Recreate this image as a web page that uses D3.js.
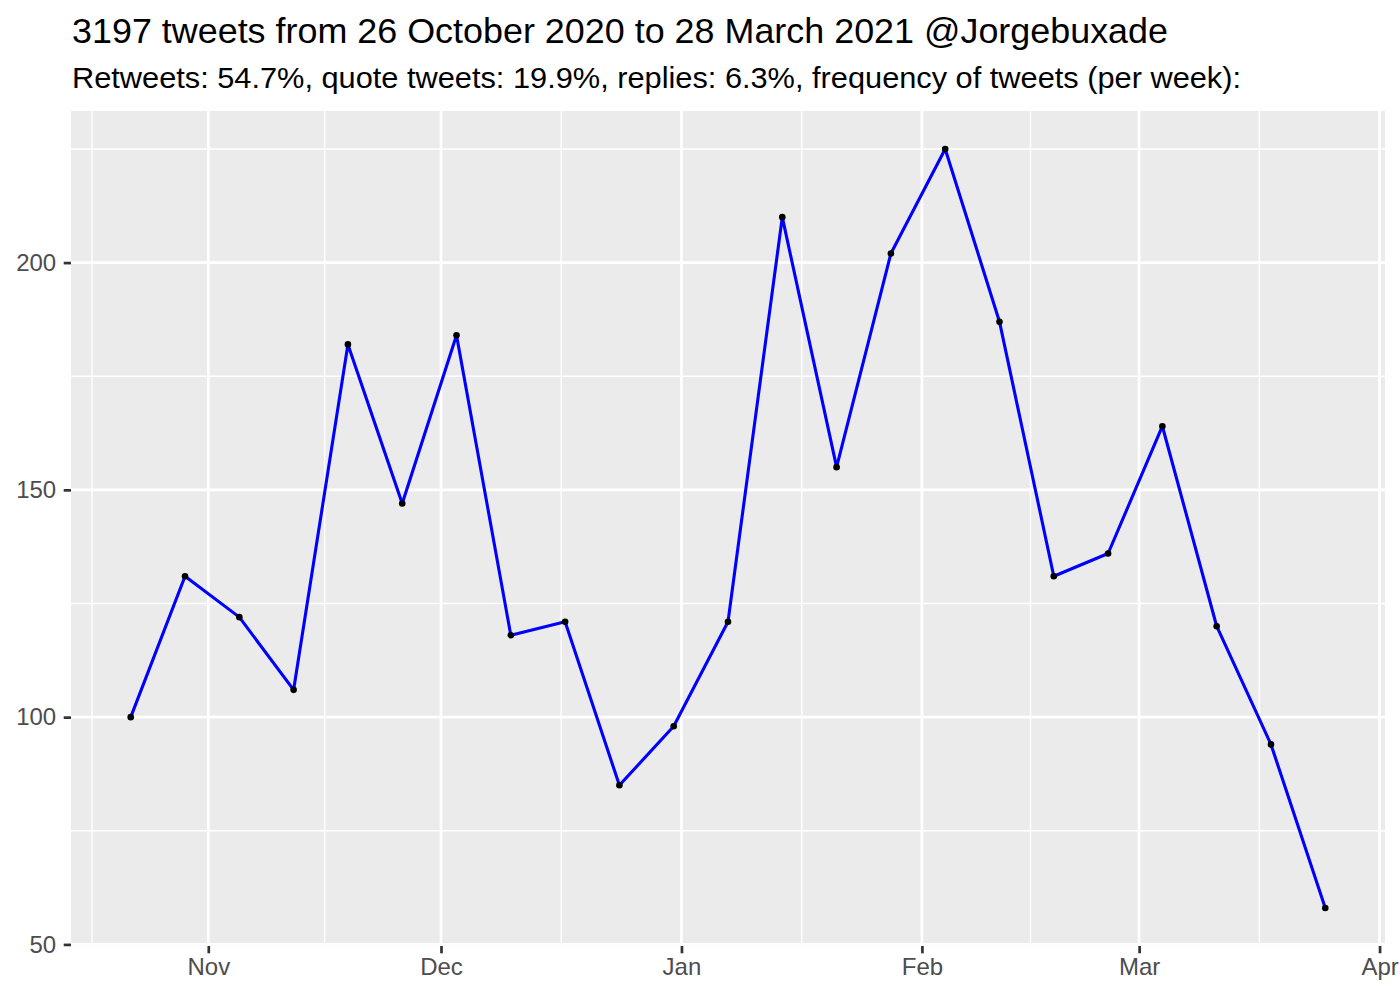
<!DOCTYPE html>
<html>
<head>
<meta charset="utf-8">
<script src="https://cdn.jsdelivr.net/npm/d3@7"></script>
<style>
  body { margin: 0; background: #fff; }
  svg { display: block; font-family: "Liberation Sans", Arial, sans-serif; }
</style>
</head>
<body>
<div id="chart"></div>
<script>
// weekly buckets (week floored to Thursday) and tweet counts
const weeks = [
  "2020-10-22", "2020-10-29", "2020-11-05", "2020-11-12", "2020-11-19",
  "2020-11-26", "2020-12-03", "2020-12-10", "2020-12-17", "2020-12-24",
  "2020-12-31", "2021-01-07", "2021-01-14", "2021-01-21", "2021-01-28",
  "2021-02-04", "2021-02-11", "2021-02-18", "2021-02-25", "2021-03-04",
  "2021-03-11", "2021-03-18", "2021-03-25"
];
const counts = [
  100, 131, 122, 106, 182, 147, 184, 118, 121, 85, 98, 121,
  210, 155, 202, 225, 187, 131, 136, 164, 120, 94, 58
];
const yBreaks = [50, 100, 150, 200];
const yMinor = [75, 125, 175, 225];
const monthLabels = ["Nov", "Dec", "Jan", "Feb", "Mar", "Apr"];

const title = "3197 tweets from 26 October 2020 to 28 March 2021 @Jorgebuxade";
const subtitle = "Retweets: 54.7%, quote tweets: 19.9%, replies: 6.3%, frequency of tweets (per week):";

const W = 1400, H = 1000;
const margin = {top: 111, right: 15, bottom: 54, left: 71};
const pw = W - margin.left - margin.right;
const ph = H - margin.top - margin.bottom;

const parse = d3.utcParse("%Y-%m-%d");
const data = weeks.map((w, i) => ({date: parse(w), n: counts[i]}));

const svg = d3.select("#chart").append("svg")
  .attr("width", W)
  .attr("height", H);

// titles (R's Helvetica runs a bit wider than Liberation at the same height)
svg.append("text")
  .attr("x", 72)
  .attr("y", 42.5)
  .attr("font-size", 34.5)
  .attr("fill", "#000")
  .attr("textLength", 1096)
  .attr("lengthAdjust", "spacingAndGlyphs")
  .text(title);

svg.append("text")
  .attr("x", 72)
  .attr("y", 87.5)
  .attr("font-size", 29)
  .attr("fill", "#000")
  .attr("textLength", 1169)
  .attr("lengthAdjust", "spacingAndGlyphs")
  .text(subtitle);

// scales with ggplot style 5% expansion
const xExt = d3.extent(data, d => d.date);
const xPad = (xExt[1] - xExt[0]) * 0.05;
const x = d3.scaleUtc()
  .domain([new Date(+xExt[0] - xPad), new Date(+xExt[1] + xPad)])
  .range([0, pw]);

const yExt = d3.extent(data, d => d.n);
const yPad = (yExt[1] - yExt[0]) * 0.05;
const y = d3.scaleLinear()
  .domain([yExt[0] - yPad, yExt[1] + yPad])
  .range([ph, 0]);

const g = svg.append("g")
  .attr("transform", "translate(" + margin.left + "," + margin.top + ")");

// panel
g.append("rect")
  .attr("width", pw)
  .attr("height", ph)
  .attr("fill", "#EBEBEB");

// month breaks; minor breaks are midpoints, with the break list extended
// by the first spacing on both ends (like scales::regular_minor_breaks)
const xMajor = d3.utcMonth.range(x.domain()[0], x.domain()[1]);
const step = xMajor[1] - xMajor[0];
const extended = [new Date(+xMajor[0] - step), ...xMajor, new Date(+xMajor[xMajor.length - 1] + step)];
const xMinor = [];
for (let i = 0; i < extended.length - 1; i++) {
  const mid = new Date((+extended[i] + +extended[i + 1]) / 2);
  if (mid >= x.domain()[0] && mid <= x.domain()[1]) xMinor.push(mid);
}

// minor grid
g.append("g")
  .selectAll("line")
  .data(yMinor)
  .enter()
  .append("line")
  .attr("x1", 0)
  .attr("x2", pw)
  .attr("y1", d => y(d))
  .attr("y2", d => y(d))
  .attr("stroke", "#fff")
  .attr("stroke-width", 1.4);

g.append("g")
  .selectAll("line")
  .data(xMinor)
  .enter()
  .append("line")
  .attr("x1", d => x(d))
  .attr("x2", d => x(d))
  .attr("y1", 0)
  .attr("y2", ph)
  .attr("stroke", "#fff")
  .attr("stroke-width", 1.4);

// major grid
g.append("g")
  .selectAll("line")
  .data(yBreaks)
  .enter()
  .append("line")
  .attr("x1", 0)
  .attr("x2", pw)
  .attr("y1", d => y(d))
  .attr("y2", d => y(d))
  .attr("stroke", "#fff")
  .attr("stroke-width", 2.7);

g.append("g")
  .selectAll("line")
  .data(xMajor)
  .enter()
  .append("line")
  .attr("x1", d => x(d))
  .attr("x2", d => x(d))
  .attr("y1", 0)
  .attr("y2", ph)
  .attr("stroke", "#fff")
  .attr("stroke-width", 2.7);

// line
const line = d3.line()
  .x(d => x(d.date))
  .y(d => y(d.n));

g.append("path")
  .datum(data)
  .attr("d", line)
  .attr("fill", "none")
  .attr("stroke", "#0000FF")
  .attr("stroke-width", 3.1)
  .attr("stroke-linejoin", "round");

// points
g.append("g")
  .selectAll("circle")
  .data(data)
  .enter()
  .append("circle")
  .attr("cx", d => x(d.date))
  .attr("cy", d => y(d.n))
  .attr("r", 3.3)
  .attr("fill", "#000");

// axes
const xAxis = d3.axisBottom(x)
  .tickValues(xMajor)
  .tickFormat((d, i) => monthLabels[i])
  .tickSize(7.3)
  .tickPadding(5);

const xAxisG = g.append("g")
  .attr("transform", "translate(0," + ph + ")")
  .call(xAxis);

const yAxis = d3.axisLeft(y)
  .tickValues(yBreaks)
  .tickSize(7.3)
  .tickPadding(7.5);

const yAxisG = g.append("g").call(yAxis);

[xAxisG, yAxisG].forEach(ax => {
  ax.select(".domain").remove();
  ax.selectAll(".tick line")
    .attr("stroke", "#333333")
    .attr("stroke-width", 2.7);
  ax.selectAll(".tick text")
    .attr("fill", "#4D4D4D")
    .attr("font-size", 24)
    .attr("font-family", "Liberation Sans, Arial, sans-serif");
});
</script>
</body>
</html>
